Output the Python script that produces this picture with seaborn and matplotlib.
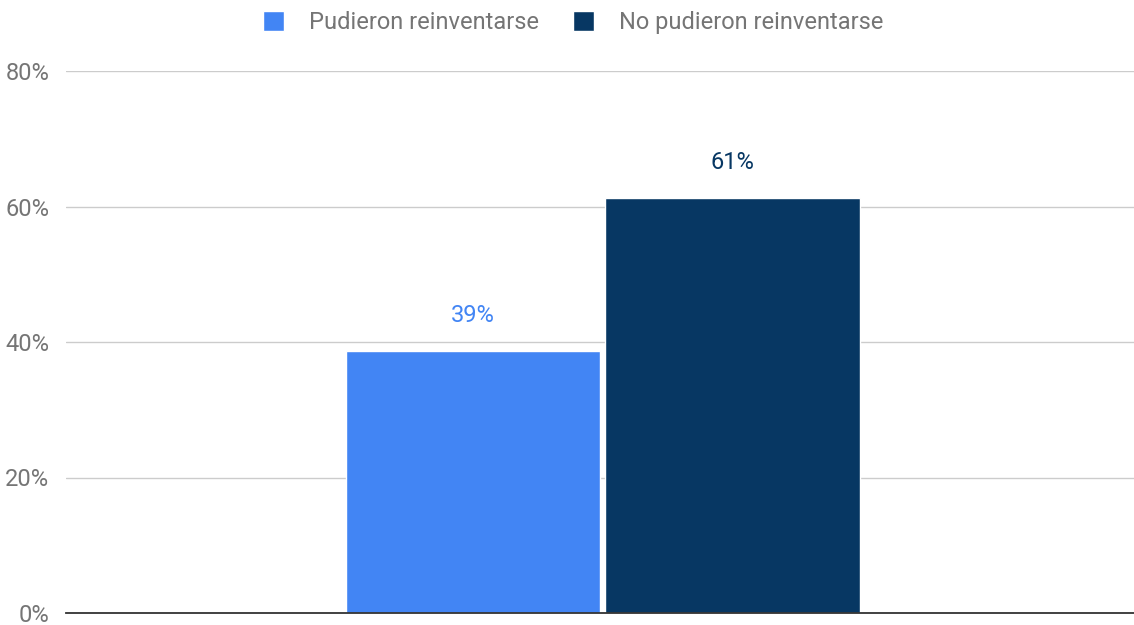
import matplotlib.pyplot as plt
import pandas as pd
import seaborn as sns
from matplotlib.ticker import PercentFormatter

categories = ["Total"]
groups = ["Pudieron reinventarse", "No pudieron reinventarse"]
values = [38.7, 61.3]
labels = ["39%", "61%"]
colors = ["#4285F4", "#073763"]

df = pd.DataFrame({"cat": categories * len(groups), "grupo": groups, "valor": values})

sns.set_style("white")
plt.rcParams["font.family"] = ["Roboto", "DejaVu Sans"]

fig = plt.figure(figsize=(11.34, 6.25), dpi=100)
ax = fig.add_axes([66 / 1134, 12 / 625, 1 - 66 / 1134, 542 / 625])

sns.barplot(data=df, x="cat", y="valor", hue="grupo", palette=colors,
            width=0.486, gap=0.02, saturation=1, ax=ax, legend=True)

ax.set_ylim(0, 80)
ax.set_xlim(-0.5 - 0.0025, 0.5 - 0.0025)
ax.set_yticks([0, 20, 40, 60, 80])
ax.yaxis.set_major_formatter(PercentFormatter(decimals=0))
ax.tick_params(axis="y", labelsize=17, labelcolor="#757575", length=0, pad=12)
ax.set_xticks([])
ax.set_xlabel("")
ax.set_ylabel("")
ax.grid(axis="y", color="#cccccc", linewidth=1)
ax.set_axisbelow(True)
for side in ["top", "right", "left"]:
    ax.spines[side].set_visible(False)
ax.spines["bottom"].set_color("#333333")
ax.spines["bottom"].set_linewidth(1.3)

for cont, lab, col in zip(ax.containers, labels, colors):
    ax.bar_label(cont, labels=[lab], padding=17, fontsize=17, color=col)

ax.legend(loc="upper center", bbox_to_anchor=(0.5 - 27 / 1068, 1.15), ncol=2,
          frameon=False, fontsize=17, labelcolor="#757575", handlelength=0.9,
          handleheight=0.9, columnspacing=1.45, handletextpad=1.05)

fig.savefig("out.png", dpi=100)
